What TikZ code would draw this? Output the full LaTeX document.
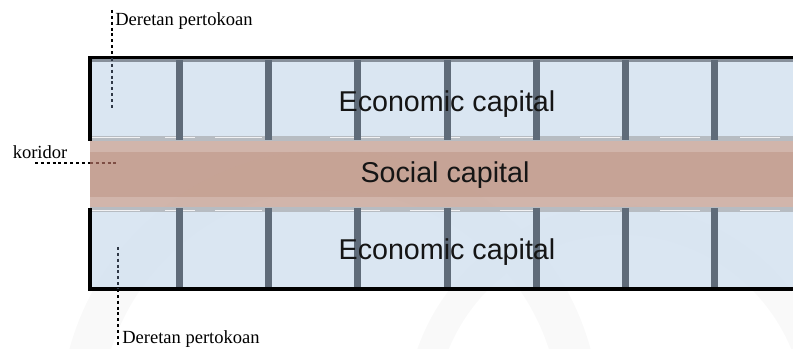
\documentclass[tikz,border=0pt]{standalone}
\usepackage{fontspec}
\setmainfont{Liberation Serif}
\newfontfamily\capfont{Liberation Sans}
\begin{document}
\begin{tikzpicture}[x=0.75pt,y=-0.75pt]
\definecolor{cellblue}{HTML}{D6E3F1}
\definecolor{postgray}{HTML}{5F6B79}
\definecolor{edgegray}{HTML}{B7BCC2}
\definecolor{corridor}{HTML}{C6A294}
\definecolor{corridorlight}{HTML}{CDAFA4}
\definecolor{inkdark}{HTML}{151515}
\definecolor{dotinner}{HTML}{2F3846}
\definecolor{dotbrown}{HTML}{7E4E44}
\tikzset{
  dotline/.style={line width=2.2pt, dash pattern=on 2.2pt off 2.2pt, draw=black},
  caplabel/.style={font=\capfont\fontsize{21.5}{24}\selectfont, text=inkdark, inner sep=0pt, anchor=base},
  sidelabel/.style={font=\fontsize{13.9}{16}\selectfont, text=black, inner sep=0pt, anchor=base west},
  post/.style={fill=postgray, draw=none},
  rim/.style={fill=black, draw=none}
}
\useasboundingbox (0,0) rectangle (793,349);

% faint background arcs
\begin{scope}
  \clip (0,0) rectangle (793,349);
  \draw[line width=30pt, gray!5] (330,420) circle[radius=250];
  \draw[line width=22pt, gray!5] (620,420) circle[radius=200];
\end{scope}

% upper row of shops
\fill[cellblue, fill opacity=0.9] (90,59) rectangle (793,137);
\fill[edgegray] (90,136) rectangle (793,141);
\foreach \xa/\xb in {92/140,165/195,215/262,330/380,410/460,500/540,580/620,660/700,740/780}
  \fill[white!80!edgegray] (\xa,137.2) rectangle (\xb,138.4);
\fill[postgray!75] (90,59) rectangle (793,62.5);
\foreach \x in {179,268,357,447,536,625,714}
  \fill[post] (\x-3.5,60) rectangle (\x+3.5,140);
\fill[rim] (88,56.5) rectangle (793,59.5);
\fill[rim] (87.5,57) rectangle (92,141);

% corridor
\fill[corridorlight, fill opacity=0.92] (90,141) rectangle (793,207);
\fill[corridor, fill opacity=0.92] (90,152) rectangle (793,197);

% lower row of shops
\fill[edgegray] (90,207) rectangle (793,212);
\foreach \xa/\xb in {92/140,165/195,215/262,330/380,410/460,500/540,580/620,660/700,740/780}
  \fill[white!80!edgegray] (\xa,209.6) rectangle (\xb,210.8);
\fill[cellblue, fill opacity=0.9] (90,212) rectangle (793,287);
\foreach \x in {179,268,357,447,536,625,714}
  \fill[post] (\x-3.5,208) rectangle (\x+3.5,287);
\fill[rim] (87.5,208) rectangle (92,291);
\fill[rim] (88,287) rectangle (793,291);

% labels
\node[caplabel] (ecoTop) at (447,112) {Economic capital};
\node[caplabel] (social) at (445,183) {Social capital};
\node[caplabel] (ecoBot) at (447,259) {Economic capital};
\node[sidelabel] (lblTop) at (115,26) {Deretan pertokoan};
\node[sidelabel] (lblKor) at (12.5,159) {koridor};
\node[sidelabel] (lblBot) at (122,343) {Deretan pertokoan};

% leader lines
\coordinate (topA) at (112,10);
\coordinate (topM) at (112,58);
\coordinate (topB) at (112,108);
\coordinate (korA) at (35,163);
\coordinate (korM) at (90,163);
\coordinate (korB) at (118,163);
\coordinate (botA) at (118,247);
\coordinate (botM) at (118,289);
\coordinate (botB) at (118,347);
\draw[dotline] (topA) -- (topM);
\draw[dotline, draw=dotinner] (topM) -- (topB);
\draw[dotline] (korA) -- (korM);
\draw[dotline, draw=dotbrown] (korM) -- (korB);
\draw[dotline, draw=dotinner] (botA) -- (botM);
\draw[dotline] (botM) -- (botB);
\end{tikzpicture}
\end{document}
